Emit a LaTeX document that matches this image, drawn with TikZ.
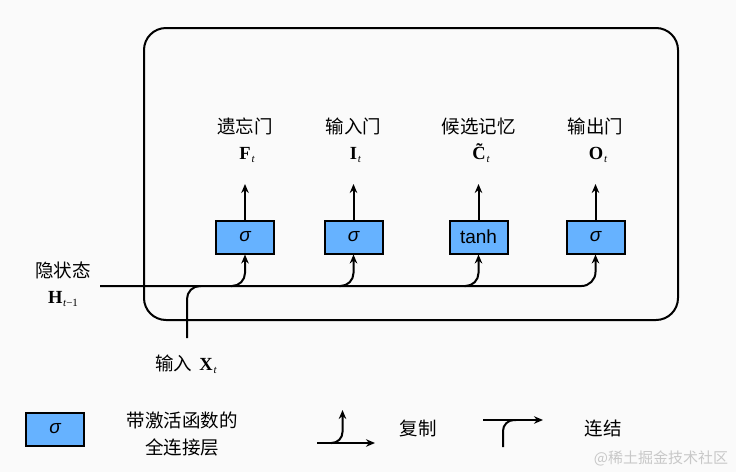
\documentclass[tikz,border=0pt]{standalone}
\usepackage{fontspec}
\setmainfont{Liberation Sans}
\newfontfamily\cjk{Noto Sans CJK SC}
\newfontfamily\tms{Liberation Serif}
\usetikzlibrary{arrows.meta}
\definecolor{gatefill}{RGB}{102,178,255}
\definecolor{wmgray}{RGB}{200,200,200}
\newcommand\mvar[2]{{\fontsize{18.5}{18.5}\selectfont\tms\bfseries #1}\kern0.8pt\raisebox{-0.6ex}{\fontsize{11}{11}\selectfont\tms\itshape #2}}
\newcommand\sig{{\itshape σ}}
\tikzset{
  gate/.style={draw=black, line width=2pt, fill=gatefill, minimum width=58pt, minimum height=33pt, inner sep=0pt, font=\fontsize{19}{19}\selectfont},
  ln/.style={line width=2pt, black},
  arr/.style={ln, -{Stealth[length=9pt,width=7.5pt]}},
  cn/.style={font=\fontsize{18.5}{22}\selectfont\cjk, inner sep=0pt},
}
\begin{document}
\begin{tikzpicture}[x=1pt,y=-1pt]
\useasboundingbox (0,0) rectangle (736,472);
\fill[white!98!black] (0,0) rectangle (736,472);
% frame
\draw[ln, rounded corners=22pt] (144,28) rectangle (678,320);
% gates
\node[gate] (f) at (245,237) {\sig};
\node[gate] (i) at (353.5,237) {\sig};
\node[gate] (c) at (478.5,237) {tanh};
\node[gate] (o) at (595.5,237) {\sig};
% labels
\node[cn] (fl) at (245,126) {遗忘门};
\node[cn] (il) at (353.5,126) {输入门};
\node[cn] (cl) at (478.5,126) {候选记忆};
\node[cn] (ol) at (595.5,126) {输出门};
\node[inner sep=0pt] (fm) at (247,155) {\mvar{F}{t}};
\node[inner sep=0pt] (im) at (355.5,155) {\mvar{I}{t}};
\node[inner sep=0pt] (cm) at (481,153) {\mvar{\~{C}}{t}};
\node[inner sep=0pt] (om) at (598,155) {\mvar{O}{t}};
% output arrows
\coordinate (fo) at (245,184);
\coordinate (io) at (353.5,184);
\coordinate (co) at (478.5,184);
\coordinate (oo) at (595.5,184);
\draw[arr] (f.north) -- (fo);
\draw[arr] (i.north) -- (io);
\draw[arr] (c.north) -- (co);
\draw[arr] (o.north) -- (oo);
% hidden state and input
\node[cn] (hl) at (63,270) {隐状态};
\node[inner sep=0pt] (hm) at (63,299) {{\fontsize{18.5}{18.5}\selectfont\tms\bfseries H}\kern0.8pt\raisebox{-0.6ex}{\fontsize{11}{11}\selectfont\tms\itshape t\upshape −1}};
\node[inner sep=0pt] (xl) at (186,364) {{\cjk\fontsize{18.5}{22}\selectfont 输入}\hspace{7pt}\mvar{X}{t}};
\coordinate (h0) at (100,286);
\coordinate (x0) at (187,338);
\coordinate (xm) at (201,286);
\draw[ln, rounded corners=13pt] (x0) -- (187,286) -- (xm);
\draw[arr, rounded corners=14pt] (h0) -- (595.5,286) -- (o.south);
\coordinate (fb) at (231,286);
\coordinate (ib) at (339.5,286);
\coordinate (cb) at (464.5,286);
\draw[arr, rounded corners=13pt] (fb) -- (245,286) -- (f.south);
\draw[arr, rounded corners=13pt] (ib) -- (353.5,286) -- (i.south);
\draw[arr, rounded corners=13pt] (cb) -- (478.5,286) -- (c.south);
% legend
\node[gate] (lg) at (55,429) {\sig};
\node[cn, align=center] (lgt) at (182,434) {带激活函数的\\[5pt]全连接层};
\coordinate (c0) at (317,443);
\coordinate (c1) at (375,443);
\coordinate (c2) at (331,443);
\coordinate (c3) at (342.5,410);
\draw[arr] (c0) -- (c1);
\draw[arr, rounded corners=11pt] (c2) -- (342.5,443) -- (c3);
\node[cn] (cpy) at (418,428) {复制};
\coordinate (k0) at (483,420);
\coordinate (k1) at (543,420);
\coordinate (k2) at (503,447);
\coordinate (k3) at (516,420);
\draw[arr] (k0) -- (k1);
\draw[ln, rounded corners=11pt] (k2) -- (503,420) -- (k3);
\node[cn] (cat) at (603,428) {连结};
\node[inner sep=0pt, text=wmgray, font=\fontsize{15}{15}\selectfont\cjk] (wm) at (661,458) {@稀土掘金技术社区};
\end{tikzpicture}
\end{document}
